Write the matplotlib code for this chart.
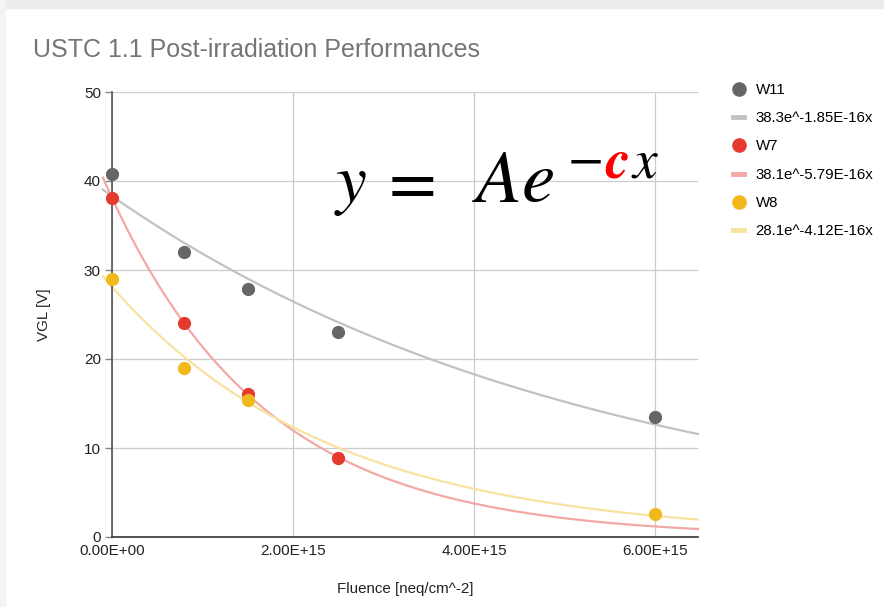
import matplotlib.pyplot as plt
import numpy as np
from matplotlib.lines import Line2D
from matplotlib.patches import Rectangle

plt.rcParams['font.family'] = ['Liberation Sans', 'DejaVu Sans']

# data
w11_x = [0, 0.8e15, 1.5e15, 2.5e15, 6.0e15]
w11 = [40.8, 32.0, 27.9, 23.0, 13.5]
w7_x = [0, 0.8e15, 1.5e15, 2.5e15]
w7 = [38.1, 24.1, 16.1, 8.9]
w8_x = [0, 0.8e15, 1.5e15, 6.0e15]
w8 = [29.0, 19.0, 15.4, 2.6]

# exponential trendlines y = A e^(-c x), from the legend
fit_A = [38.3, 38.1, 28.1]
fit_c = [1.85e-16, 5.79e-16, 4.12e-16]
fit_labels = ['38.3e^-1.85E-16x', '38.1e^-5.79E-16x', '28.1e^-4.12E-16x']

names = ['W11', 'W7', 'W8']
point_colors = ['#666666', '#e53a2f', '#f2b91c']
trend_colors = ['#c2c2c2', '#f2a9a6', '#f8e2a0']

xticks = [0, 2e15, 4e15, 6e15]
xticklabels = ['0.00E+00', '2.00E+15', '4.00E+15', '6.00E+15']
yticks = [0, 10, 20, 30, 40, 50]

fig = plt.figure(figsize=(8.84, 6.07), dpi=100)
fig.patches.append(Rectangle((0, 1 - 8/607), 1, 8/607, transform=fig.transFigure,
                             color='#ececec', zorder=0))
fig.patches.append(Rectangle((0, 0), 5/884, 1, transform=fig.transFigure,
                             color='#f4f4f4', zorder=0))

ax = fig.add_axes([112/884, 1 - 537/607, 586/884, 445/607])

xs = np.linspace(-0.1e15, 6.47e15, 300)
series_x = [w11_x, w7_x, w8_x]
series_y = [w11, w7, w8]
handles = []
for i in range(3):
    curve = fit_A[i] * np.exp(-fit_c[i] * xs)
    ax.plot(xs, curve, color=trend_colors[i], lw=1.6, zorder=2, clip_on=False)
    ax.plot(series_x[i], series_y[i], 'o', color=point_colors[i], ms=8.5,
            zorder=4, clip_on=False)
    handles.append(Line2D([], [], marker='o', ls='none', color=point_colors[i],
                          ms=9.5, label=names[i]))
    handles.append(Line2D([], [], color=trend_colors[i], lw=3.5, label=fit_labels[i]))

ax.set_xlim(0, 6.47e15)
ax.set_ylim(0, 50)
ax.set_xticks(xticks)
ax.set_xticklabels(xticklabels)
ax.set_yticks(yticks)
ax.tick_params(axis='x', length=0, pad=5, labelsize=11, labelcolor='#222222')
ax.tick_params(axis='y', length=5, width=1, color='#888888', pad=3,
               labelsize=11, labelcolor='#222222')
ax.grid(True, color='#cccccc', lw=0.9)
ax.set_axisbelow(True)
for s in ['top', 'right']:
    ax.spines[s].set_visible(False)
ax.spines['left'].set_color('#555555')
ax.spines['left'].set_linewidth(1.2)
ax.spines['bottom'].set_color('#333333')
ax.spines['bottom'].set_linewidth(1.2)

ax.set_xlabel('Fluence [neq/cm^-2]', fontsize=10.9, color='#222222', labelpad=17)
ax.set_ylabel('VGL [V]', fontsize=10.9, color='#222222', labelpad=24)

fig.text(33/884, 1 - 50/607, 'USTC 1.1 Post-irradiation Performances',
         fontsize=18, color='#757575', va='center', ha='left')

leg = fig.legend(handles=handles, loc='upper left',
                 bbox_to_anchor=(733/884, 1 - 83/607), frameon=False,
                 fontsize=10.8, handlelength=0.75, handletextpad=0.75,
                 labelspacing=0.95, borderaxespad=0, borderpad=0)

# formula overlay
fig.text(334/884, 1 - 202/607, r'$y$', fontsize=50,
         math_fontfamily='stix', va='baseline', ha='left')
fig.text(378/884, 1 - 202/607, r'$=$', fontsize=50,
         math_fontfamily='stix', va='baseline', ha='left')
fig.text(472/884, 1 - 202/607, r'$Ae$', fontsize=54,
         math_fontfamily='stix', va='baseline', ha='left')
fig.text(567/884, 1 - 160/607, r'$-$', fontsize=38,
         math_fontfamily='stix', va='center', ha='left')
fig.text(605/884, 1 - 177/607, 'c', fontsize=40, family='STIXGeneral',
         style='italic', weight='bold', color='#ff0000', va='baseline', ha='left')
fig.text(631/884, 1 - 177/607, r'$x$', fontsize=40,
         math_fontfamily='stix', va='baseline', ha='left')

fig.savefig('out.png', dpi=100)
